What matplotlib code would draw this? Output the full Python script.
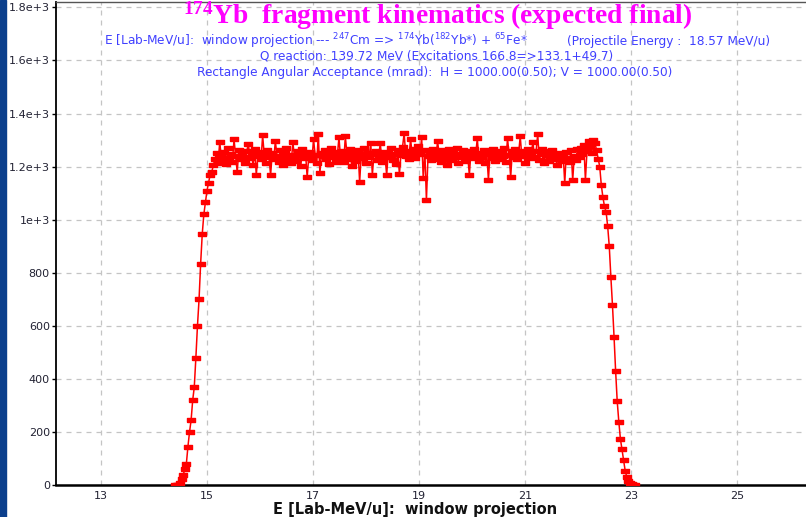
import numpy as np
import matplotlib.pyplot as plt
from matplotlib.patches import Rectangle

plt.rcParams['font.family'] = 'DejaVu Sans'
plt.rcParams['mathtext.default'] = 'regular'

# energy window projection, 0.03 MeV/u bins starting at 14.40
e_start = 14.40
e_step = 0.03

rise = [0, 0, 3, 10, 22, 38, 60, 80, 145, 200,
        245, 320, 370, 480, 600, 700, 835, 945, 1020, 1065,
        1110, 1140, 1170, 1180]

plateau = [1205, 1228, 1250, 1215, 1292, 1238, 1222, 1256, 1210, 1270,
           1232, 1247, 1219, 1303, 1241, 1179, 1262, 1228, 1251, 1236,
           1214, 1258, 1285, 1233, 1247, 1206, 1266, 1168, 1240, 1255,
           1227, 1318, 1244, 1212, 1261, 1237, 1168, 1250, 1229, 1296,
           1241, 1218, 1263, 1235, 1207, 1254, 1272, 1226, 1243, 1215,
           1292, 1238, 1221, 1259, 1246, 1203, 1268, 1233, 1249, 1160,
           1237, 1256, 1224, 1303, 1245, 1212, 1322, 1175, 1252, 1240,
           1263, 1228, 1247, 1210, 1271, 1236, 1254, 1219, 1244, 1310,
           1232, 1258, 1216, 1314, 1249, 1227, 1265, 1204, 1241, 1256,
           1223, 1262, 1141, 1245, 1233, 1270, 1214, 1251, 1238, 1288,
           1168, 1247, 1260, 1225, 1243, 1288, 1218, 1256, 1236, 1168,
           1252, 1239, 1270, 1226, 1248, 1211, 1262, 1172, 1245, 1275,
           1326, 1241, 1257, 1228, 1305, 1249, 1268, 1232, 1254, 1277,
           1246, 1310, 1156, 1261, 1073, 1239, 1255, 1224, 1266, 1243,
           1230, 1296, 1248, 1219, 1261, 1237, 1252, 1208, 1265, 1240,
           1226, 1258, 1243, 1271, 1215, 1249, 1235, 1262, 1222, 1254,
           1240, 1168, 1257, 1231, 1266, 1245, 1307, 1223, 1250, 1238,
           1262, 1214, 1247, 1149, 1255, 1234, 1268, 1221, 1246, 1259,
           1229, 1253, 1240, 1272, 1218, 1307, 1244, 1160, 1258, 1236,
           1265, 1227, 1250, 1314, 1239, 1257, 1212, 1246, 1268, 1231,
           1254, 1292, 1236, 1260, 1322, 1225, 1248, 1266, 1213, 1243,
           1258, 1221, 1237, 1262, 1229, 1245, 1208, 1253, 1235, 1220,
           1247, 1137, 1256, 1231, 1218, 1262, 1149, 1240, 1226, 1266,
           1235, 1271, 1248, 1282, 1149, 1260, 1295, 1277, 1253, 1300,
           1288, 1262, 1230]

fall = [1200, 1130, 1085, 1050, 1030, 975, 900, 785, 680, 560,
        430, 316, 240, 175, 136, 95, 55, 32, 18, 10,
        5, 1, 0]

counts = np.array(rise + plateau + fall, dtype=float)
energy = e_start + e_step * np.arange(len(counts))

x_ticks = [13, 15, 17, 19, 21, 23, 25]
y_ticks = [0, 200, 400, 600, 800, 1000, 1200, 1400, 1600, 1800]
y_labels = ['0', '200', '400', '600', '800', '1e+3', '1.2e+3', '1.4e+3', '1.6e+3', '1.8e+3']

W, H = 806, 517
def fx(px):
    return px / W
def fy(py):
    return 1 - py / H

fig = plt.figure(figsize=(W / 100, H / 100), dpi=100)
fig.patches.append(Rectangle((0, 0), fx(6), 1, transform=fig.transFigure,
                             color='#0b3f8c', zorder=5))

ax = fig.add_axes([fx(56), 1 - 485.3 / H, (814 - 56) / W, (485.3 - 1.5) / H])
ax.set_xlim(12.151, 12.151 + 758 / 53.0)
ax.set_ylim(0, 1800 + (7.3 - 1.5) / 53.1 * 200)

# wide flat rectangles for the bin markers
rect = [(-1, -0.55), (1, -0.55), (1, 0.55), (-1, 0.55), (-1, -0.55)]
ax.plot(energy, counts, color='red', lw=1.1, marker=rect, ms=5.5,
        mfc='red', mec='red', zorder=3)

ax.grid(True, color='#c4c4c4', linestyle=(0, (4, 4)), linewidth=0.9)
ax.set_xticks(x_ticks)
ax.set_xticklabels([str(t) for t in x_ticks])
ax.set_yticks(y_ticks)
ax.set_yticklabels(y_labels)
ax.tick_params(axis='x', length=0, pad=4, labelsize=8, labelcolor='#222233')
ax.tick_params(axis='y', length=3, width=1, pad=1.5, labelsize=8, labelcolor='#222233')

ax.spines['left'].set_linewidth(1.3)
ax.spines['bottom'].set_linewidth(1.8)
ax.spines['top'].set_linewidth(1.0)
ax.spines['top'].set_color('#555555')
ax.spines['right'].set_visible(False)

fig.text(fx(415), fy(502), 'E [Lab-MeV/u]:  window projection', ha='center', va='top',
         fontsize=10.5, weight='bold', color='#111111')

# header
fig.text(fx(438), fy(16), r'$^{174}$Yb  fragment kinematics (expected final)',
         ha='center', va='center', family='Liberation Serif', weight='bold',
         fontsize=19.8, color='#ff00ff')

blue = '#4040ff'
fs_sub = 8.7
fig.text(fx(104), fy(41), r'E [Lab-MeV/u]:  window projection --- $^{247}$Cm => $^{174}$Yb($^{182}$Yb*) + $^{65}$Fe*',
         ha='left', va='center', fontsize=fs_sub, color=blue)
fig.text(fx(567), fy(41), '(Projectile Energy :  18.57 MeV/u)',
         ha='left', va='center', fontsize=fs_sub, color=blue)
fig.text(fx(437), fy(56.5), 'Q reaction: 139.72 MeV (Excitations 166.8=>133.1+49.7)',
         ha='center', va='center', fontsize=fs_sub, color=blue)
fig.text(fx(435), fy(73), 'Rectangle Angular Acceptance (mrad):  H = 1000.00(0.50); V = 1000.00(0.50)',
         ha='center', va='center', fontsize=fs_sub, color=blue)

fig.savefig('out.png', dpi=100)
